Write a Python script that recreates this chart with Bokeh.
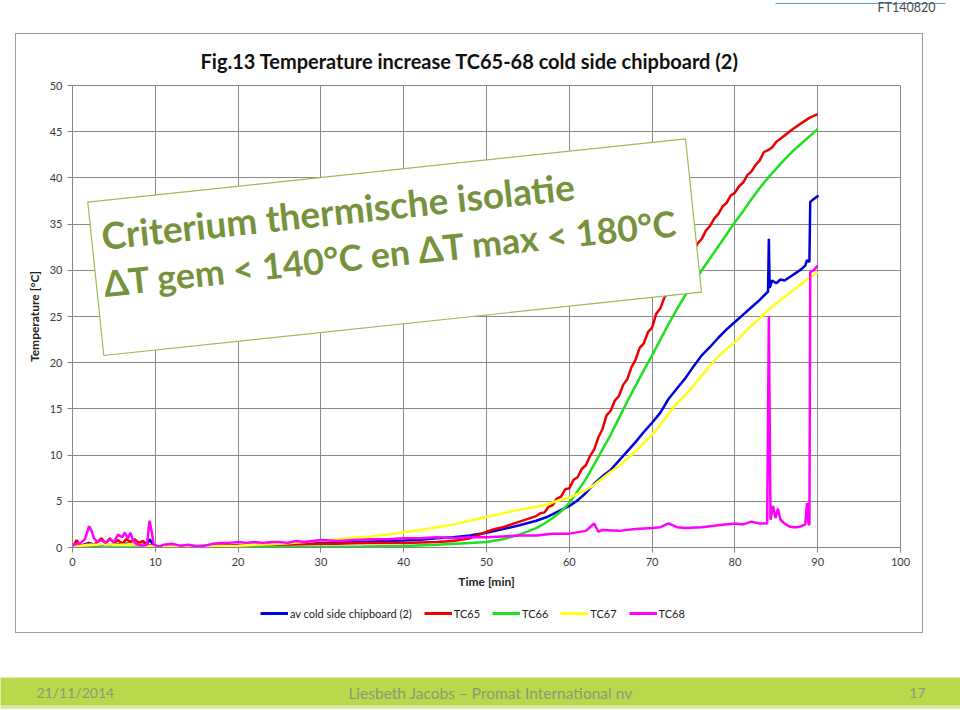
from bokeh.plotting import figure
from bokeh.models import Range1d, FixedTicker, Label, Legend, LegendItem, BoxAnnotation
from bokeh.layouts import column
from bokeh.embed import file_html
from bokeh.resources import INLINE

# ---------------- data ----------------
x_ticks = [0, 10, 20, 30, 40, 50, 60, 70, 80, 90, 100]
y_ticks = [0, 5, 10, 15, 20, 25, 30, 35, 40, 45, 50]

series_names = ["av cold side chipboard (2)", "TC65", "TC66", "TC67", "TC68"]

t_av = [0, 1, 2, 2.5, 3, 4, 5, 6, 7, 8, 9, 9.3, 9.8, 10, 12, 14, 16, 18, 20, 22, 24, 26, 28, 30,
        32, 34, 36, 38, 40, 42, 44, 46, 48, 50, 52, 54, 56, 57.3, 58, 60, 61, 62, 63, 64, 65, 66,
        67, 68, 69, 70, 71, 72, 73, 74, 75, 76, 77, 78, 79, 80, 81, 82, 83, 84.0, 84.1, 84.2,
        84.5, 85, 85.5, 86, 87, 88, 88.5, 88.7, 88.9, 89.0, 89.1, 89.5, 90.1]
v_av = [0.0, 0.2, 0.5, 0.3, 0.2, 0.4, 0.3, 0.4, 0.4, 0.3, 0.3, 0.9, 0.2, 0.1, 0.15, 0.15, 0.15,
        0.2, 0.25, 0.3, 0.35, 0.4, 0.45, 0.5, 0.5, 0.6, 0.65, 0.7, 0.76, 0.85, 1.0, 1.1, 1.3, 1.6,
        2.0, 2.4, 2.9, 3.3, 3.6, 4.5, 5.1, 5.9, 6.9, 7.7, 8.4, 9.4, 10.4, 11.4, 12.5, 13.5, 14.6,
        16.1, 17.2, 18.3, 19.6, 20.8, 21.7, 22.7, 23.6, 24.4, 25.2, 26.0, 26.8, 27.7, 33.4, 28.1,
        28.9, 28.6, 29.0, 28.9, 29.5, 30.1, 30.5, 31.1, 30.9, 31.0, 37.4, 37.7, 38.1]

t_tc65 = [0, 0.5, 1.0, 1.5, 2, 2.5, 3, 3.5, 4, 4.5, 5, 5.5, 6, 6.5, 7, 7.5, 8, 8.5, 9, 9.5, 10,
          12, 14, 16, 18, 20, 22, 24, 26, 28, 30, 32, 34, 36, 38, 40, 42, 44, 46, 48, 50, 51, 52,
          53, 54, 55, 56, 56.5, 57, 57.5, 58, 58.5, 59, 59.5, 60, 60.5, 61, 61.5, 62, 62.5, 63,
          63.5, 64, 64.5, 65, 65.5, 66, 66.5, 67, 67.5, 68, 68.5, 69, 69.5, 70, 70.5, 71, 71.5,
          72, 72.5, 73, 73.5, 74, 74.5, 75, 75.5, 76, 76.5, 77, 77.5, 78, 78.5, 79, 79.5, 80,
          80.5, 81, 81.5, 82, 82.5, 83, 83.5, 84, 84.5, 85, 86, 87, 88, 89, 90]
v_tc65 = [0.0, 0.8, 0.1, 0.3, 0.4, 0.2, 0.6, 1.0, 0.4, 1.0, 0.5, 0.8, 0.4, 0.9, 0.6, 0.9, 0.5,
          0.7, 0.3, 0.2, 0.1, 0.1, 0.1, 0.15, 0.2, 0.2, 0.25, 0.3, 0.3, 0.35, 0.4, 0.4, 0.45, 0.5,
          0.5, 0.5, 0.55, 0.6, 0.7, 1.0, 1.7, 2.0, 2.2, 2.5, 2.8, 3.1, 3.4, 3.7, 3.8, 4.4, 4.6,
          5.3, 5.5, 6.3, 6.4, 7.3, 7.6, 8.5, 8.9, 9.9, 10.6, 11.9, 12.8, 14.3, 14.8, 15.9, 16.4,
          17.6, 18.2, 19.5, 20.3, 21.6, 22.1, 23.3, 23.8, 25.3, 25.9, 27.1, 27.6, 28.6, 29.2,
          30.2, 30.7, 31.6, 32.1, 32.9, 33.4, 34.3, 34.8, 35.6, 36.1, 36.9, 37.3, 38.1, 38.4,
          39.1, 39.5, 40.3, 40.7, 41.4, 41.9, 42.8, 43.0, 43.3, 43.9, 44.6, 45.3, 45.9, 46.5, 46.9]

t_tc66 = [0, 10, 20, 25, 30, 35, 40, 44, 48, 50, 52, 54, 56, 57, 58, 59, 60, 61, 62, 63, 64, 65,
          66, 67, 68, 69, 70, 71, 72, 73, 74, 75, 76, 77, 78, 79, 80, 81, 82, 83, 84, 85, 86, 87,
          88, 89, 90]
v_tc66 = [0.0, 0.0, 0.02, 0.05, 0.08, 0.1, 0.15, 0.3, 0.5, 0.6, 0.9, 1.4, 2.1, 2.6, 3.2, 3.9,
          4.8, 6.1, 7.4, 9.0, 10.6, 12.2, 14.0, 15.8, 17.5, 19.2, 20.8, 22.5, 24.2, 25.8, 27.3,
          28.7, 30.0, 31.3, 32.6, 33.9, 35.2, 36.4, 37.7, 38.9, 40.0, 41.0, 42.0, 42.9, 43.7,
          44.5, 45.3]

t_tc67 = [0, 1, 2, 3, 4, 5, 6, 7, 8, 9, 10, 12, 14, 16, 18, 20, 22, 24, 26, 28, 30, 32, 34, 36,
          38, 40, 42, 44, 46, 48, 50, 52, 54, 56, 57.3, 58, 60, 61, 62, 63, 64, 65, 66, 67, 68,
          69, 70, 71, 72, 73, 74, 75, 76, 77, 78, 79, 80, 81, 82, 83, 84, 85, 86, 87, 88, 89, 90]
v_tc67 = [0.1, 0.2, 0.3, 0.3, 0.4, 0.3, 0.3, 0.35, 0.3, 0.2, 0.1, 0.1, 0.1, 0.1, 0.15, 0.2, 0.3,
          0.35, 0.45, 0.6, 0.76, 0.9, 1.05, 1.2, 1.4, 1.66, 1.9, 2.2, 2.5, 2.9, 3.3, 3.7, 4.1,
          4.4, 4.65, 4.9, 5.4, 5.8, 6.2, 6.8, 7.5, 8.2, 8.8, 9.6, 10.4, 11.3, 12.2, 13.3, 14.5,
          15.6, 16.5, 17.5, 18.6, 19.7, 20.7, 21.5, 22.2, 23.1, 24.0, 24.8, 25.7, 26.4, 27.1,
          27.8, 28.5, 29.2, 29.8]

t_tc68 = [0, 0.5, 1, 1.5, 2, 2.3, 2.6, 3, 3.5, 4, 4.5, 5, 5.5, 6, 6.3, 6.7, 7, 7.3, 7.7, 8, 8.5,
          9, 9.3, 9.6, 9.8, 10.5, 11, 12, 13, 14, 15, 16, 17, 18, 19, 20, 21, 22, 23, 24, 25, 26,
          27, 28, 29, 30, 32, 34, 36, 38, 40, 42, 44, 46, 48, 50, 52, 54, 56, 58, 60, 62, 63,
          63.5, 64, 66, 68, 70, 71, 72, 73, 74, 76, 78, 80, 81, 82, 83, 83.9, 84.1, 84.3, 84.6,
          84.9, 85.2, 85.5, 86, 86.5, 87, 87.5, 88, 88.5, 88.7, 88.9, 89.0, 89.1, 89.5, 90]
v_tc68 = [0.2, 0.4, 0.5, 0.9, 2.3, 1.8, 1.0, 0.6, 0.8, 0.5, 0.9, 0.6, 1.4, 1.1, 1.6, 1.0, 1.6,
          0.8, 0.4, 0.3, 0.2, 0.3, 2.9, 1.5, 0.3, 0.1, 0.3, 0.4, 0.2, 0.3, 0.1, 0.2, 0.4, 0.5,
          0.5, 0.6, 0.5, 0.6, 0.5, 0.6, 0.6, 0.5, 0.7, 0.6, 0.7, 0.8, 0.7, 0.8, 0.9, 0.9, 1.0,
          1.0, 1.1, 1.0, 1.1, 1.1, 1.2, 1.3, 1.3, 1.5, 1.5, 1.8, 2.6, 1.7, 1.9, 1.8, 2.0, 2.1,
          2.2, 2.6, 2.2, 2.1, 2.2, 2.4, 2.6, 2.5, 2.8, 2.6, 2.6, 25.0, 3.0, 4.5, 3.2, 4.2, 3.0,
          2.6, 2.3, 2.2, 2.2, 2.3, 2.5, 4.8, 2.5, 2.5, 29.8, 30.0, 30.5]

series_colors = ["#0000dd", "#ee0000", "#1ee01e", "#ffff1a", "#ff00ff"]

title_text = "Fig.13 Temperature increase TC65-68 cold side chipboard (2)"
box_line1 = "Criterium thermische isolatie"
box_line2 = "\u0394T gem < 140\u00b0C en \u0394T max < 180\u00b0C"
footer_left = "21/11/2014"
footer_mid = "Liesbeth Jacobs \u2013 Promat International nv"
footer_right = "17"
doc_code = "FT140820"

# ---------------- layout (page pixels: canvas starts at page 0,0) ----------------
FONT = "Lato"
W = 960
TOP_H = 34


def bare_fig(w, h, xr, yr, **kw):
    f = figure(width=w, height=h, x_range=xr, y_range=yr, output_backend="svg",
               toolbar_location=None, min_border=0, x_axis_location=None,
               y_axis_location=None, outline_line_color=None, **kw)
    f.grid.visible = False
    return f


top_fig = bare_fig(W, TOP_H, Range1d(0, W), Range1d(TOP_H, 0))
top_fig.line(x=[775, 945], y=[3, 3], line_color="#5b9bd5", line_width=1.2)
top_fig.add_layout(Label(x=935, y=7, text=doc_code, text_align="right", text_baseline="middle",
                         text_font=FONT, text_font_size="12.5px", text_color="#4a4a4a"))

# chart figure: page x 16..922, y 34..594 ; frame page x 72..900, y 85..547
CH_W, CH_H = 906, 560
p = figure(width=CH_W, height=CH_H, x_range=Range1d(0, 100), y_range=Range1d(0, 50),
           output_backend="svg", toolbar_location=None,
           min_border_left=56, min_border_right=22, min_border_top=51, min_border_bottom=47,
           background_fill_color="white", border_fill_color="white")

p.title.text = title_text
p.title.align = "left"
p.title.offset = 128
p.title.vertical_align = "middle"
p.title.standoff = 24
p.title.text_font = FONT
p.title.text_font_size = "20px"
p.title.text_font_style = "bold"
p.title.text_color = "#111111"

p.xaxis.ticker = FixedTicker(ticks=x_ticks)
p.yaxis.ticker = FixedTicker(ticks=y_ticks)
p.xaxis.axis_label = "Time [min]"
p.yaxis.axis_label = "Temperature [\u00b0C]"
for ax in p.axis:
    ax.axis_line_color = "#868686"
    ax.major_tick_line_color = "#868686"
    ax.major_tick_out = 5
    ax.major_tick_in = 0
    ax.minor_tick_line_color = None
    ax.major_label_text_font = FONT
    ax.major_label_text_font_size = "11px"
    ax.major_label_text_color = "#3a3a3a"
    ax.major_label_standoff = 5
    ax.axis_label_text_font = FONT
    ax.axis_label_text_font_size = "12px"
    ax.axis_label_text_font_style = "bold"
    ax.axis_label_text_color = "#222222"
    ax.axis_label_standoff = 5
p.grid.grid_line_color = "#8a8a8a"
p.grid.grid_line_width = 1
p.outline_line_color = "#8a8a8a"

series = [(t_av, v_av), (t_tc65, v_tc65), (t_tc66, v_tc66), (t_tc67, v_tc67), (t_tc68, v_tc68)]
for (tt, vv), col in zip(series, series_colors):
    p.line(tt, vv, line_color=col, line_width=2.5)

# rotated criterion box (decoration), page-pixel geometry converted to data units
FR_L, FR_R, FR_T, FR_B = 72.0, 900.0, 85.0, 547.0


def dx(px):
    return (px - FR_L) / (FR_R - FR_L) * 100.0


def dy(py):
    return (FR_B - py) / (FR_B - FR_T) * 50.0


corners = [(87.3, 201.7), (685.0, 138.3), (701.0, 291.7), (103.3, 355.0)]
p.patch([dx(c[0]) for c in corners], [dy(c[1]) for c in corners],
        fill_color="white", line_color="#9bbb59", line_width=1.2)
ANG = 0.1056
p.add_layout(Label(x=dx(101), y=dy(235), text=box_line1, angle=ANG, text_align="left",
                   text_baseline="alphabetic", text_font=FONT, text_font_size="37px",
                   text_font_style="bold", text_color="#76923c"))
p.add_layout(Label(x=dx(103), y=dy(283), text=box_line2, angle=ANG, text_align="left",
                   text_baseline="alphabetic", text_font=FONT, text_font_size="35.7px",
                   text_font_style="bold", text_color="#76923c"))

# legend strip below the chart (page y 594..632); its renderers lie outside its view
LEG_H = 38
leg_fig = bare_fig(CH_W, LEG_H, Range1d(1000, 1001), Range1d(1000, 1001))
leg_rs = [leg_fig.line(tt, vv, line_color=c, line_width=3)
          for (tt, vv), c in zip(series, series_colors)]
legend = Legend(items=[LegendItem(label=n, renderers=[r]) for n, r in zip(series_names, leg_rs)],
                orientation="horizontal", location=(188, 12), border_line_color=None,
                background_fill_alpha=0, label_text_font=FONT, label_text_font_size="11px",
                label_text_color="#222222", glyph_width=28, glyph_height=14, label_height=14,
                label_standoff=2, spacing=12, padding=4, margin=0)
leg_fig.add_layout(legend)

chart_box = column(p, leg_fig, margin=(0, 0, 45, 16), styles={"outline": "1px solid #9c9c9c"})

# footer bar (page y 677..709)
BAR_H = 32
bar = bare_fig(W, BAR_H, Range1d(0, W), Range1d(BAR_H, 0),
               background_fill_color="#dbe9a8", border_fill_color="#dbe9a8")
bar.add_layout(BoxAnnotation(left=0, right=W, top=0, bottom=28, fill_color="#b9d84c",
                             fill_alpha=1, line_color=None))
for txt, xx, al, fs in [(footer_left, 36, "left", "14px"), (footer_mid, 490, "center", "15.5px"),
                        (footer_right, 925, "right", "14px")]:
    bar.add_layout(Label(x=xx, y=15, text=txt, text_align=al, text_baseline="middle",
                         text_font=FONT, text_font_size=fs, text_color="#8c9878"))

layout = column(top_fig, chart_box, bar)
open("out.html", "w").write(file_html(layout, INLINE))
